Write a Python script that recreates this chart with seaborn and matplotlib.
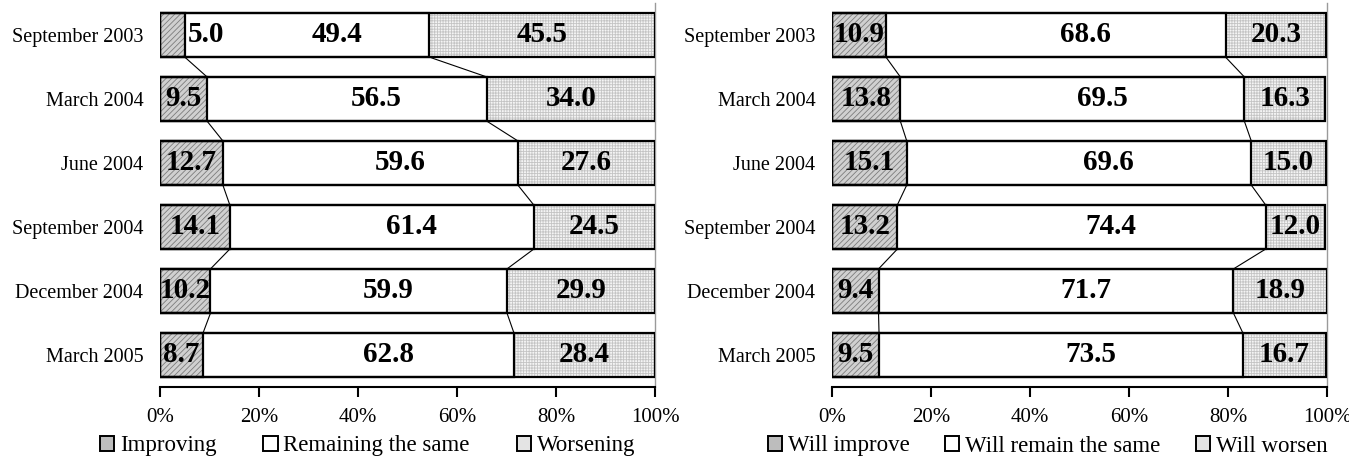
import numpy as np
import pandas as pd
import matplotlib
matplotlib.use("Agg")
import matplotlib.pyplot as plt
from matplotlib.patches import Patch
import seaborn as sns

periods = ["September 2003", "March 2004", "June 2004", "September 2004",
           "December 2004", "March 2005"]

left_improving = [5.0, 9.5, 12.7, 14.1, 10.2, 8.7]
left_same = [49.4, 56.5, 59.6, 61.4, 59.9, 62.8]
left_worsening = [45.5, 34.0, 27.6, 24.5, 29.9, 28.4]
left_labels = ["Improving", "Remaining the same", "Worsening"]

right_improving = [10.9, 13.8, 15.1, 13.2, 9.4, 9.5]
right_same = [68.6, 69.5, 69.6, 74.4, 71.7, 73.5]
right_worsening = [20.3, 16.3, 15.0, 12.0, 18.9, 16.7]
right_labels = ["Will improve", "Will remain the same", "Will worsen"]

xticks = [0, 20, 40, 60, 80, 100]
xticklabels = ["0%", "20%", "40%", "60%", "80%", "100%"]

sns.set_style("white")
plt.rcParams["font.family"] = ["Liberation Serif", "DejaVu Serif"]
plt.rcParams["hatch.linewidth"] = 0.6
plt.rcParams["text.color"] = "black"
plt.rcParams["xtick.color"] = "black"
plt.rcParams["ytick.color"] = "black"
plt.rcParams["axes.labelcolor"] = "black"

# (facecolor, hatch colour, hatch pattern, legend tone)
S_IMP = ("#d0d0d0", "#7c7c7c", "//////", "#bdbdbd")
S_SAME = ("#ffffff", "#ffffff", "", "#ffffff")
S_WORSE = ("#f4f4f4", "#c4c4c4", "++++++", "#e4e4e4")
BAR_H = 0.69
MID_SHIFT = 6.0

fig = plt.figure(figsize=(13.49, 4.57), dpi=100)
ax_l = fig.add_axes([160 / 1349, 1 - 387 / 457, 495 / 1349, 384 / 457])
ax_r = fig.add_axes([832 / 1349, 1 - 387 / 457, 495 / 1349, 384 / 457])


def draw(ax, imp, same, worse):
    imp = np.array(imp)
    same = np.array(same)
    worse = np.array(worse)
    c1 = imp
    c2 = imp + same
    c3 = imp + same + worse
    df = pd.DataFrame({"period": periods, "c1": c1, "c2": c2, "c3": c3})
    for col, (fc, hc, hp, _) in [("c3", S_WORSE), ("c2", S_SAME), ("c1", S_IMP)]:
        sns.barplot(data=df, x=col, y="period", orient="h", color=fc,
                    edgecolor=hc, linewidth=0, hatch=hp, width=BAR_H,
                    saturation=1, ax=ax, zorder=2)
    for col in ("c3", "c2", "c1"):
        sns.barplot(data=df, x=col, y="period", orient="h", color="black",
                    fill=False, linewidth=1.6, width=BAR_H, ax=ax, zorder=3)
    # connector lines
    for i in range(len(periods) - 1):
        for cum in (c1, c2):
            ax.plot([cum[i], cum[i + 1]], [i + BAR_H / 2, i + 1 - BAR_H / 2],
                    color="black", lw=0.8, zorder=1)
    # value labels
    kw = dict(ha="center", va="center", fontsize=21, fontweight="bold",
              color="black", zorder=5)
    for i in range(len(periods)):
        if imp[i] < 7:
            ax.text(imp[i] + 4.2, i, f"{imp[i]:.1f}", **kw)
        else:
            ax.text(imp[i] / 2, i, f"{imp[i]:.1f}", **kw)
        ax.text(c1[i] + same[i] / 2 + MID_SHIFT, i, f"{same[i]:.1f}", **kw)
        ax.text(c2[i] + worse[i] / 2, i, f"{worse[i]:.1f}", **kw)
    ax.set_xlim(0, 100)
    ax.set_ylim(5.5, -0.5)
    ax.set_xticks(xticks)
    ax.set_xticklabels(xticklabels)
    ax.set_xlabel("")
    ax.set_ylabel("")
    ax.tick_params(axis="x", direction="out", length=7, width=1.5,
                   labelsize=15, pad=8, bottom=True, color="black",
                   labelcolor="black")
    ax.tick_params(axis="y", length=0, labelsize=14.5, pad=12,
                   labelcolor="black")
    for s in ("top", "left"):
        ax.spines[s].set_visible(False)
    ax.spines["right"].set_color("#9a9a9a")
    ax.spines["right"].set_linewidth(1.0)
    ax.spines["bottom"].set_color("black")
    ax.spines["bottom"].set_linewidth(1.5)
    ax.grid(False)


draw(ax_l, left_improving, left_same, left_worsening)
draw(ax_r, right_improving, right_same, right_worsening)


def handles():
    return [Patch(facecolor=s[3], edgecolor="black", lw=1.4)
            for s in (S_IMP, S_SAME, S_WORSE)]


leg_kw = dict(ncol=3, frameon=False, fontsize=16.5, handlelength=0.62,
              handleheight=0.62, handletextpad=0.25, loc="center left",
              borderaxespad=0, borderpad=0, labelcolor="black")
fig.legend(handles(), left_labels, bbox_to_anchor=(100 / 1349, 1 - 446 / 457),
           columnspacing=2.05, **leg_kw)
fig.legend(handles(), right_labels, bbox_to_anchor=(768 / 1349, 1 - 446 / 457),
           columnspacing=1.55, **leg_kw)

fig.savefig("out.png", dpi=100)
